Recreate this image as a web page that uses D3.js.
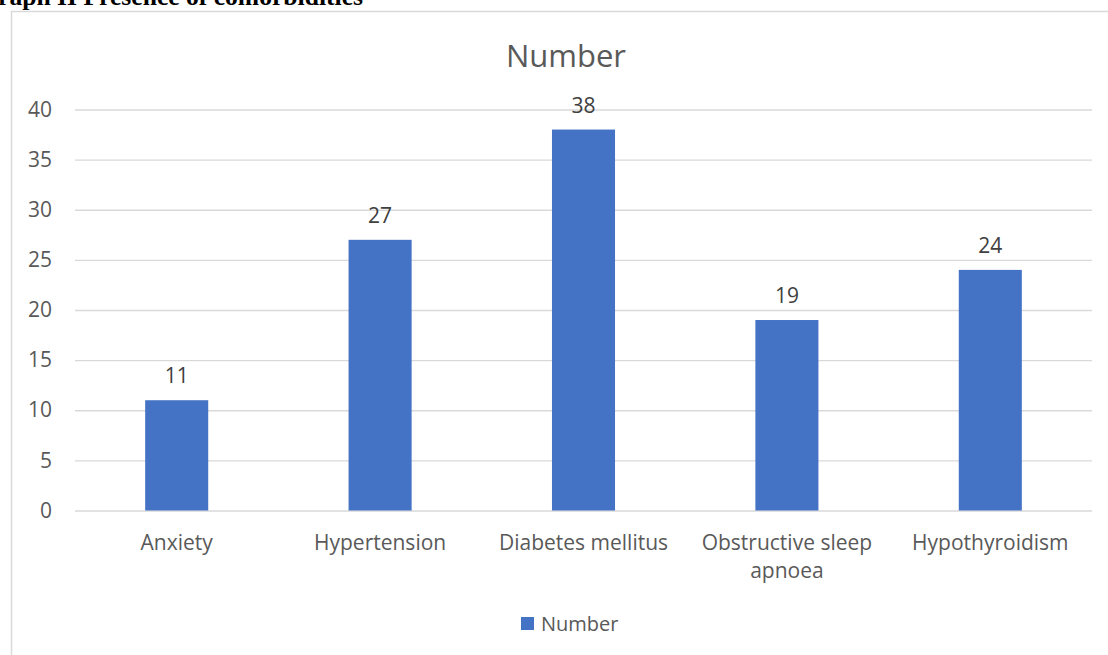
<!DOCTYPE html>
<html>
<head>
<meta charset="utf-8">
<script src="https://cdn.jsdelivr.net/npm/d3@7"></script>
<style>
  html, body { margin: 0; padding: 0; background: #fff; }
  svg { display: block; }
</style>
</head>
<body>
<svg id="chart" width="1108" height="655"></svg>
<script>
// Comorbidity counts
const categories = ["Anxiety", "Hypertension", "Diabetes mellitus", "Obstructive sleep apnoea", "Hypothyroidism"];
const values = [11, 27, 38, 19, 24];
const yTicks = [0, 5, 10, 15, 20, 25, 30, 35, 40];
const seriesName = "Number";
const captionText = "Graph II Presence of comorbidities";

const W = 1108, H = 655;
const font = "'Open Sans', Lato, sans-serif";
const svg = d3.select("#chart");

// caption above the chart frame (partly out of view)
svg.append("text")
  .attr("x", 363).attr("y", 5)
  .attr("text-anchor", "end")
  .attr("font-family", "'Liberation Serif', 'Times New Roman', serif")
  .attr("font-weight", "bold")
  .attr("font-size", 25.6)
  .attr("fill", "#000")
  .text(captionText);

// chart frame
svg.append("path")
  .attr("d", `M11.5,${H} V11.5 H${W}`)
  .attr("fill", "none")
  .attr("stroke", "#d9d9d9")
  .attr("stroke-width", 1.5);

const plot = { left: 75, right: 1092, top: 109.5, bottom: 510.5 };

const x = d3.scaleBand()
  .domain(categories)
  .range([plot.left, plot.right])
  .paddingInner(0.69)
  .paddingOuter(0.345);

const y = d3.scaleLinear()
  .domain([0, 40])
  .range([plot.bottom, plot.top]);

// gridlines
const yAxis = d3.axisLeft(y)
  .tickValues(yTicks)
  .tickSize(-(plot.right - plot.left))
  .tickPadding(23);

const gy = svg.append("g")
  .attr("transform", `translate(${plot.left},0)`)
  .call(yAxis);
gy.select(".domain").remove();
gy.selectAll(".tick line").attr("stroke", "#d9d9d9").attr("stroke-width", 1.3);
gy.selectAll(".tick text")
  .attr("font-family", font)
  .attr("font-size", 21)
  .attr("fill", "#595959");

// bars
svg.append("g").selectAll("rect")
  .data(categories)
  .join("rect")
  .attr("x", d => x(d))
  .attr("width", x.bandwidth())
  .attr("y", (d, i) => y(values[i]))
  .attr("height", (d, i) => y(0) - y(values[i]))
  .attr("fill", "#4472c4");

// value labels
svg.append("g").selectAll("text")
  .data(categories)
  .join("text")
  .attr("x", d => x(d) + x.bandwidth() / 2)
  .attr("y", (d, i) => y(values[i]) - 17)
  .attr("text-anchor", "middle")
  .attr("font-family", font)
  .attr("font-size", 21)
  .attr("fill", "#404040")
  .text((d, i) => values[i]);

// category axis labels, wrapped to fit the band
const xAxis = d3.axisBottom(x).tickSize(0).tickPadding(0);
const gx = svg.append("g")
  .attr("transform", `translate(0,${plot.bottom})`)
  .call(xAxis);
gx.select(".domain").remove();
gx.selectAll(".tick text").each(function(d) {
  const t = d3.select(this);
  t.text(null)
    .attr("y", 0)
    .attr("dy", null)
    .attr("font-family", font)
    .attr("font-size", 21)
    .attr("fill", "#595959");
  const lines = d === "Obstructive sleep apnoea" ? ["Obstructive sleep", "apnoea"] : [d];
  lines.forEach((ln, k) => {
    t.append("tspan").attr("x", 0).attr("y", 39 + k * 28).text(ln);
  });
});

// chart title
svg.append("text")
  .attr("x", 566).attr("y", 67)
  .attr("text-anchor", "middle")
  .attr("font-family", font)
  .attr("font-size", 31)
  .attr("fill", "#595959")
  .text(seriesName);

// legend
const lg = svg.append("g").attr("transform", "translate(521,617)");
lg.append("rect").attr("width", 13).attr("height", 13).attr("fill", "#4472c4");
lg.append("text")
  .attr("x", 20).attr("y", 14)
  .attr("font-family", font)
  .attr("font-size", 20)
  .attr("fill", "#595959")
  .text(seriesName);
</script>
</body>
</html>
